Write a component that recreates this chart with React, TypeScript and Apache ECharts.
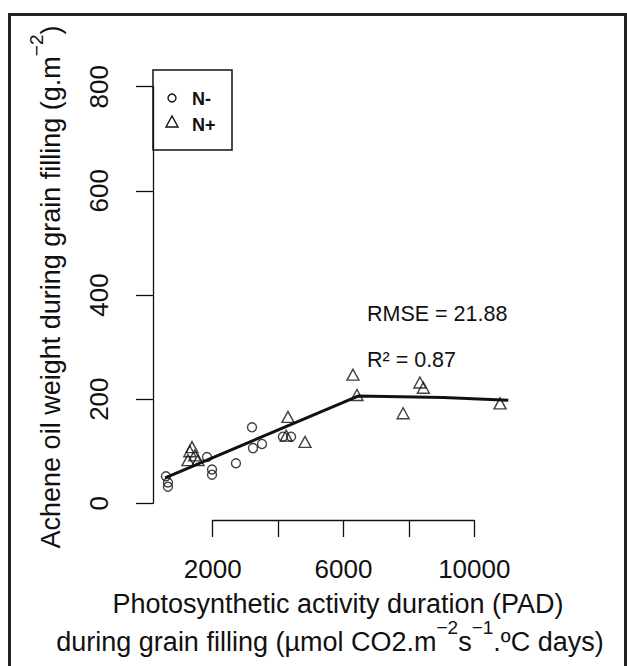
import React, { useEffect, useRef } from "react";
import * as echarts from "echarts";

// N- (open circles)
const nMinusPAD = [571, 630, 630, 1826, 1980, 1980, 2713, 3203, 3234, 3510, 4150, 4400];
const nMinusOil = [52, 40, 32, 89, 65, 55, 77, 146, 106, 114, 128, 128];
// N+ (open triangles)
const nPlusPAD = [1244, 1300, 1367, 1450, 1550, 4250, 4304, 4826, 6294, 6417, 7830, 8343, 8450, 10797];
const nPlusOil = [83, 100, 108, 92, 83, 130, 166, 118, 247, 208, 173, 232, 222, 192];
// fitted linear-plateau model
const fitPAD = [545, 6450, 9060, 11050];
const fitOil = [49, 206, 203, 198];
// axis ticks
const xTicks = [2000, 4000, 6000, 8000, 10000];
const xLabelled = [2000, 6000, 10000];
const yTicks = [0, 200, 400, 600, 800];

const FONT = "'Liberation Sans', Arial, Helvetica, sans-serif";
const INK = "#111";

export default function App() {
  const ref = useRef<HTMLDivElement>(null);
  useEffect(() => {
    const chart = echarts.init(ref.current!, null, { renderer: "svg" });
    const zip = (xs: number[], ys: number[]) => xs.map((x, i) => [x, ys[i]]);
    const supRich = {
      n: { fontSize: 27, fontFamily: FONT, fill: INK, lineHeight: 48 },
      s: { fontSize: 19, fontFamily: FONT, fill: INK, lineHeight: 18, verticalAlign: "top" },
    };
    chart.setOption({
      animation: false,
      backgroundColor: "#fff",
      grid: [
        { left: 153, top: 70, width: 370, height: 450 },
        { left: 212.7, top: 70, width: 261.6, height: 450 },
        { left: 153, top: 86.7, width: 370, height: 416.6 },
      ],
      xAxis: [
        { gridIndex: 0, type: "value", min: 173, max: 11500, show: false },
        {
          gridIndex: 1,
          type: "value",
          min: xTicks[0],
          max: xTicks[xTicks.length - 1],
          interval: 2000,
          axisLine: { show: true, onZero: false, lineStyle: { color: INK, width: 1.3 } },
          axisTick: { show: true, length: 17, lineStyle: { color: INK, width: 1.3 } },
          splitLine: { show: false },
          axisLabel: {
            margin: 36,
            fontSize: 26,
            color: INK,
            fontFamily: FONT,
            formatter: (v: number) => (xLabelled.includes(v) ? String(v) : ""),
          },
        },
        { gridIndex: 2, type: "value", min: 0, max: 1, show: false },
      ],
      yAxis: [
        { gridIndex: 0, type: "value", min: -32, max: 832, show: false },
        { gridIndex: 1, type: "value", min: 0, max: 1, show: false },
        {
          gridIndex: 2,
          type: "value",
          min: yTicks[0],
          max: yTicks[yTicks.length - 1],
          interval: 200,
          axisLine: { show: true, onZero: false, lineStyle: { color: INK, width: 1.3 } },
          axisTick: { show: true, length: 17, lineStyle: { color: INK, width: 1.3 } },
          splitLine: { show: false },
          axisLabel: {
            rotate: 90,
            margin: 41,
            fontSize: 26,
            color: INK,
            fontFamily: FONT,
          },
        },
      ],
      series: [
        {
          type: "scatter",
          name: "N-",
          xAxisIndex: 0,
          yAxisIndex: 0,
          data: zip(nMinusPAD, nMinusOil),
          symbol: "circle",
          symbolSize: 9,
          itemStyle: { color: "rgba(0,0,0,0)", borderColor: INK, borderWidth: 1.4 },
        },
        {
          type: "scatter",
          name: "N+",
          xAxisIndex: 0,
          yAxisIndex: 0,
          data: zip(nPlusPAD, nPlusOil),
          symbol: "triangle",
          symbolSize: [12, 11],
          itemStyle: { color: "rgba(0,0,0,0)", borderColor: INK, borderWidth: 1.4 },
        },
        {
          type: "line",
          name: "fit",
          xAxisIndex: 0,
          yAxisIndex: 0,
          data: zip(fitPAD, fitOil),
          symbol: "none",
          lineStyle: { color: INK, width: 3 },
        },
      ],
      graphic: [
        {
          type: "rect",
          shape: { x: 9.5, y: 14.5, width: 616, height: 700 },
          style: { fill: "none", stroke: "#222", lineWidth: 3 },
          silent: true,
        },
        {
          type: "rect",
          shape: { x: 153, y: 70, width: 79, height: 80 },
          style: { fill: "#fff", stroke: INK, lineWidth: 1.5 },
        },
        {
          type: "circle",
          shape: { cx: 172, cy: 98, r: 4 },
          style: { fill: "none", stroke: INK, lineWidth: 1.4 },
        },
        {
          type: "polygon",
          shape: { points: [[166, 127], [178, 127], [172, 116]] },
          style: { fill: "none", stroke: INK, lineWidth: 1.4 },
        },
        {
          type: "text",
          x: 192,
          y: 99,
          style: { text: "N-", fontSize: 18, fontFamily: FONT, fill: INK, verticalAlign: "middle", fontWeight: "bold" },
        },
        {
          type: "text",
          x: 192,
          y: 125,
          style: { text: "N+", fontSize: 18, fontFamily: FONT, fill: INK, verticalAlign: "middle", fontWeight: "bold" },
        },
        {
          type: "text",
          x: 367,
          y: 314,
          style: { text: "RMSE = 21.88", fontSize: 21.5, fontFamily: FONT, fill: INK, verticalAlign: "middle" },
        },
        {
          type: "text",
          x: 367,
          y: 360,
          style: { text: "R² = 0.87", fontSize: 21.5, fontFamily: FONT, fill: INK, verticalAlign: "middle" },
        },
        {
          type: "text",
          x: 338,
          y: 604,
          style: {
            text: "Photosynthetic activity duration (PAD)",
            fontSize: 27,
            fontFamily: FONT,
            fill: INK,
            align: "center",
            verticalAlign: "middle",
          },
        },
        {
          type: "text",
          x: 330,
          y: 642,
          style: {
            text: "{n|during grain filling (µmol CO2.m}{s|−2}{n|s}{s|−1}{n|.ºC days)}",
            align: "center",
            verticalAlign: "middle",
            rich: supRich,
          },
        },
        {
          type: "text",
          x: 51,
          y: 287,
          rotation: Math.PI / 2,
          style: {
            text: "{n|Achene oil weight during grain filling (g.m}{s|−2}{n|)}",
            align: "center",
            verticalAlign: "middle",
            rich: supRich,
          },
        },
      ],
    });
    return () => chart.dispose();
  }, []);
  return (
    <div
      ref={ref}
      style={{ position: "fixed", left: 0, top: 0, width: 627, height: 666, background: "#fff" }}
    />
  );
}
